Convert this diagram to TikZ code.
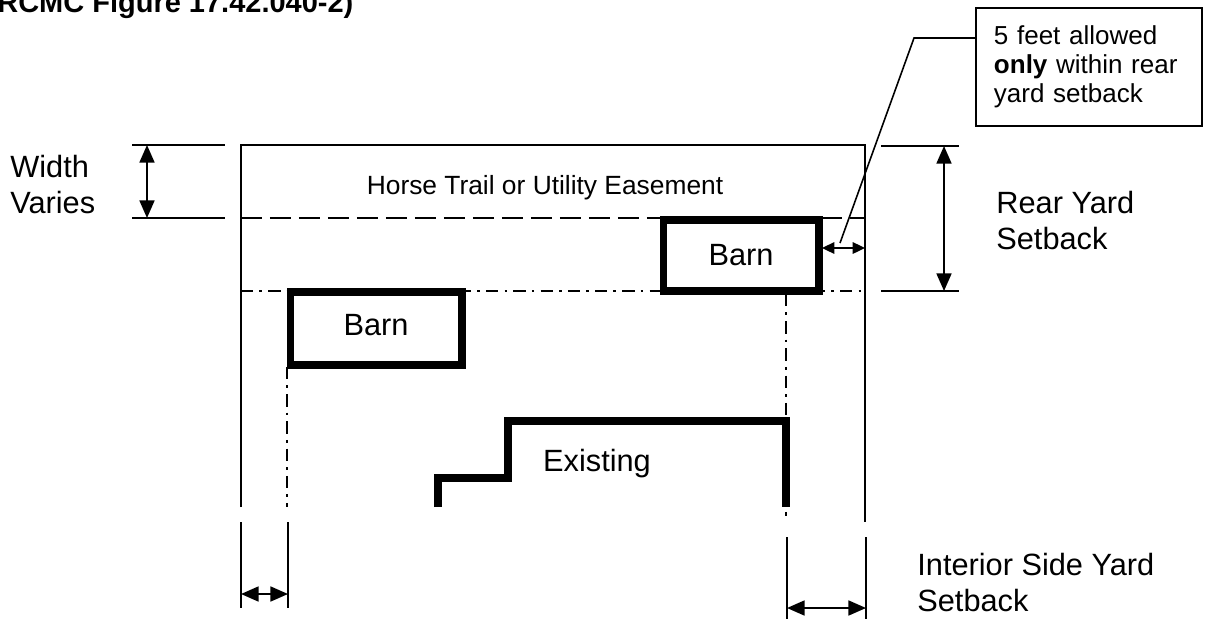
\documentclass[tikz,border=0pt]{standalone}
\usepackage{fontspec}
\setmainfont{Liberation Sans}
\usetikzlibrary{arrows.meta}

\tikzset{
  lot/.style={line width=1.1pt},
  barn/.style={draw, line width=4pt, inner sep=0pt},
  wall/.style={line width=4pt, line join=miter},
  easement/.style={line width=1.3pt, dash pattern=on 12pt off 4.5pt},
  setback/.style={line width=1.1pt, dash pattern=on 7pt off 3.5pt on 1.5pt off 3.5pt},
  dimline/.style={line width=1.1pt, {Triangle[length=10pt,width=8.5pt]}-{Triangle[length=10pt,width=8.5pt]}},
  label/.style={font=\fontsize{17.5}{20.5}\selectfont, align=left, inner sep=0pt, anchor=north west},
}

\begin{document}
\begin{tikzpicture}[x=0.02cm, y=-0.02cm]
  \useasboundingbox (0,0) rectangle (1206,619);
  \clip (0,0) rectangle (1206,619);

  \node[anchor=base west, inner sep=0pt, font=\bfseries\fontsize{16.5}{20}\selectfont] (title) at (-3,12) {RCMC Figure 17.42.040-2)};

  % lot lines
  \path (241,507) coordinate(lotbl) (241,145) coordinate(lottl) (865,145) coordinate(lottr) (865,522) coordinate(lotbr);
  \draw[lot] (lotbl) -- (lottl) -- (lottr) -- (lotbr);
  \path (241,218) coordinate(easel) (865,218) coordinate(easer) (241,291) coordinate(rearl) (865,291) coordinate(rearr);
  \draw[easement] (easel) -- (easer);
  \draw[setback] (rearl) -- (rearr);
  \path (287,367) coordinate(sidelt) (287,507) coordinate(sidelb) (786,294) coordinate(sidert) (786,516) coordinate(siderb);
  \draw[setback] (sidelt) -- (sidelb);
  \draw[setback] (sidert) -- (siderb);

  \node[font=\fontsize{15}{18}\selectfont] (trail) at (545,188) {Horse Trail or Utility Easement};

  % barns and existing house
  \node[barn, minimum width=3.12cm, minimum height=1.42cm, font=\fontsize{17.5}{20.5}\selectfont] (barnR) at (741,255.5) {Barn};
  \node[barn, minimum width=3.44cm, minimum height=1.46cm, font=\fontsize{17.5}{20.5}\selectfont, text depth=4pt] (barnL) at (376,328.5) {Barn};
  \path (438,507) coordinate(ex1) (438,478) coordinate(ex2) (508,478) coordinate(ex3) (508,421) coordinate(ex4) (786,421) coordinate(ex5) (786,507) coordinate(ex6);
  \draw[wall] (ex1) -- (ex2) -- (ex3) -- (ex4) -- (ex5) -- (ex6);
  \node[font=\fontsize{17.5}{20.5}\selectfont] (existing) at (597,464) {Existing};

  % width varies
  \path (132,145) coordinate(wt1) (225,145) coordinate(wt2) (132,218) coordinate(wb1) (225,218) coordinate(wb2) (147,145) coordinate(wa1) (147,218) coordinate(wa2);
  \draw[lot] (wt1) -- (wt2);
  \draw[lot] (wb1) -- (wb2);
  \draw[dimline] (wa1) -- (wa2);
  \node[label] (width) at (10,154.5) {Width\\Varies};

  % rear yard setback
  \path (881,146) coordinate(rt1) (959,146) coordinate(rt2) (881,291) coordinate(rb1) (959,291) coordinate(rb2) (944,146) coordinate(ra1) (944,291) coordinate(ra2);
  \draw[lot] (rt1) -- (rt2);
  \draw[lot] (rb1) -- (rb2);
  \draw[dimline] (ra1) -- (ra2);
  \node[label] (rear) at (996,190.5) {Rear Yard\\Setback};

  % five feet note
  \path (822,248) coordinate(gapl) (865,248) coordinate(gapr);
  \draw[line width=1.1pt, {Triangle[length=7pt,width=6.5pt]}-{Triangle[length=7pt,width=6.5pt]}] (gapl) -- (gapr);
  \node[draw, lot, anchor=north west, minimum width=4.52cm, minimum height=2.36cm, text width=3.8cm, inner xsep=0.36cm, align=left, font=\fontsize{14.8}{16.5}\selectfont] (note) at (975,7) {5 feet allowed\\\textbf{only} within rear\\yard setback};
  \path (975,38) coordinate(lead) (914,38) coordinate(bend) (840,243) coordinate(tip);
  \draw[line width=0.9pt] (lead) -- (bend) -- (tip);

  % interior side yard setback
  \path (241,522) coordinate(sl1) (241,608) coordinate(sl2) (288,522) coordinate(sl3) (288,608) coordinate(sl4) (241,594) coordinate(sla1) (288,594) coordinate(sla2);
  \draw[lot] (sl1) -- (sl2);
  \draw[lot] (sl3) -- (sl4);
  \draw[dimline] (sla1) -- (sla2);
  \path (787,537) coordinate(sr1) (787,619) coordinate(sr2) (866,537) coordinate(sr3) (866,619) coordinate(sr4) (787,608) coordinate(sra1) (866,608) coordinate(sra2);
  \draw[lot] (sr1) -- (sr2);
  \draw[lot] (sr3) -- (sr4);
  \draw[dimline] (sra1) -- (sra2);
  \node[label] (side) at (917,552.5) {Interior Side Yard\\Setback};
\end{tikzpicture}
\end{document}
